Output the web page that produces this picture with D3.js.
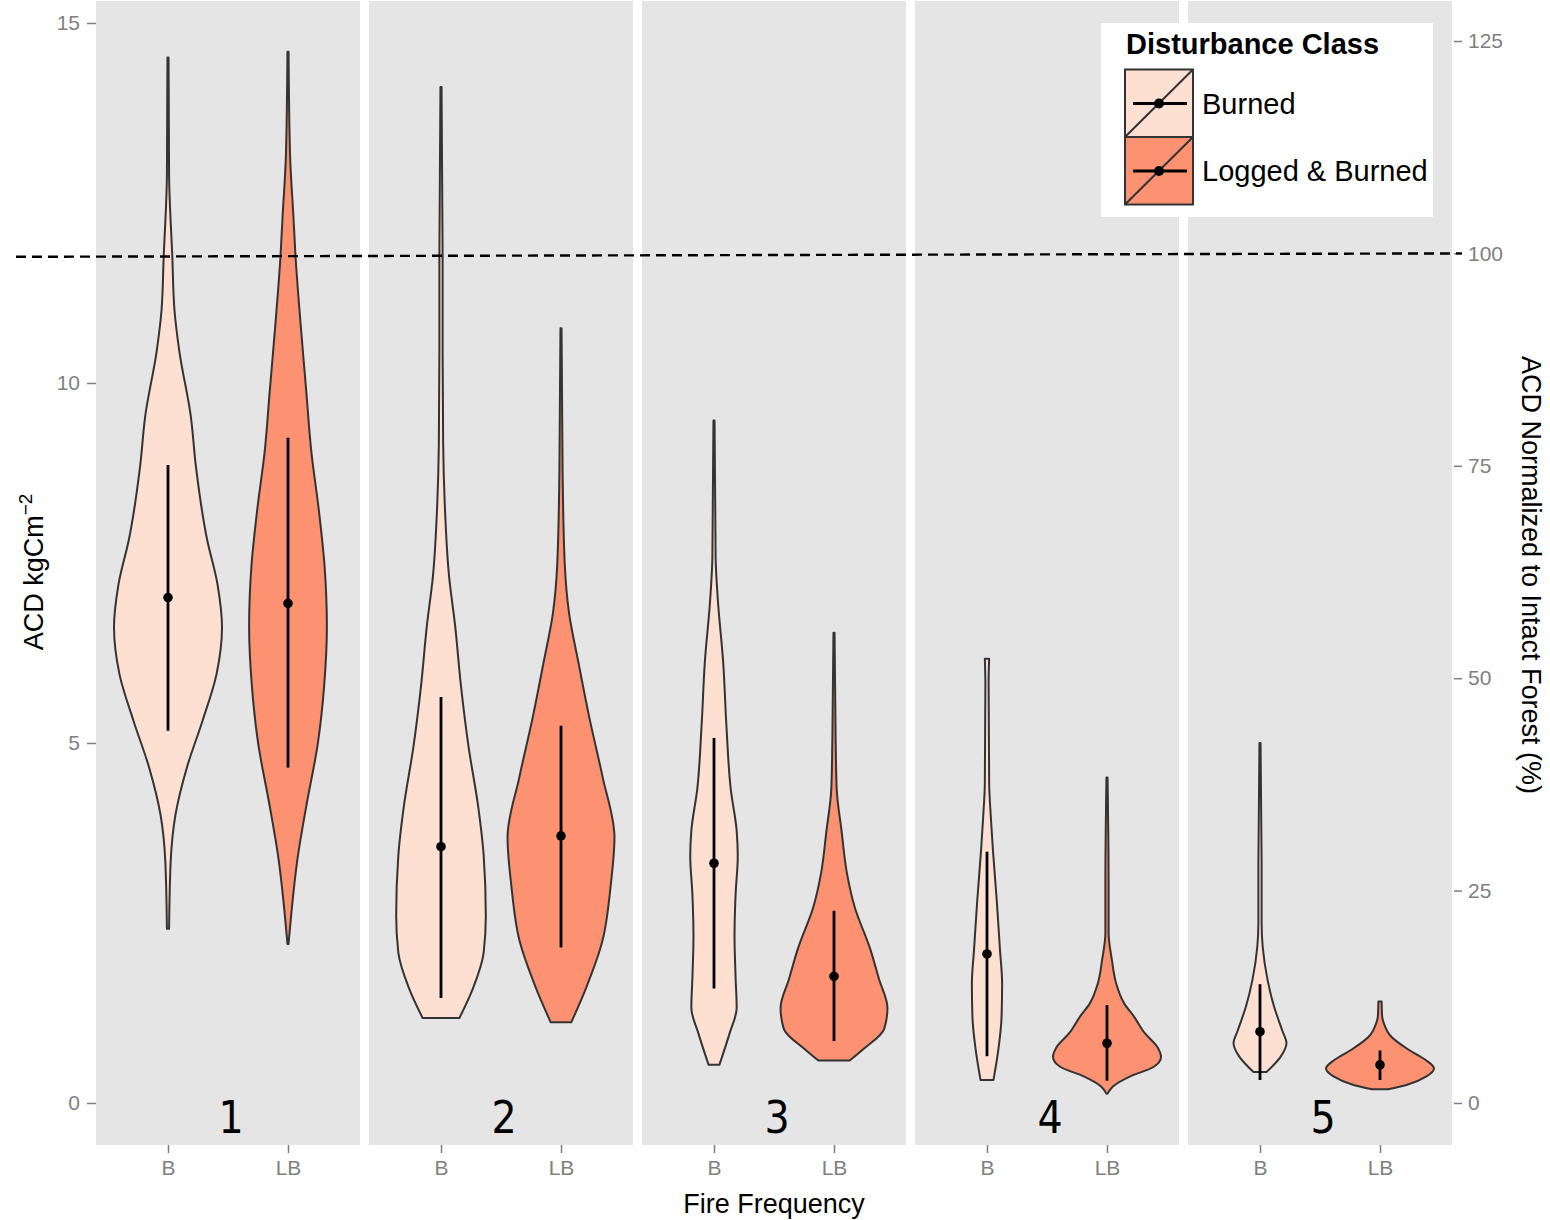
<!DOCTYPE html>
<html>
<head>
<meta charset="utf-8">
<script src="https://cdn.jsdelivr.net/npm/d3@7"></script>
<style>
  body { margin: 0; background: #fff; }
  .tick text { font-family: "Liberation Sans", Arial, sans-serif; fill: #7f7f7f; }
  .tick line { stroke: #7f7f7f; stroke-width: 1.5; }
</style>
</head>
<body>
<div id="chart"></div>
<script>
// ---- data ----
const freqs = [1, 2, 3, 4, 5];
const classes = ["B", "LB"];
const classLabels = ["Burned", "Logged & Burned"];
const intactAcd = 11.8;            // ACD of intact forest = 100 %
const dashPct = [99.6, 100];       // dashed reference line, left end / right end
const leftTicks = [0, 5, 10, 15];
const rightTicks = [0, 25, 50, 75, 100, 125];

// violin outlines per fire frequency: ACD values (top to bottom) and relative half width
const burnedAcd = [
  [14.52, 12.89, 11.75, 11.01, 10.44, 9.55, 8.82, 7.84, 7.19, 6.61, 5.96, 5.31, 4.66, 4.01, 3.36, 2.42],
  [14.11, 11.77, 10.42, 9.16, 8.31, 7.31, 6.64, 5.79, 4.95, 4.11, 3.44, 2.60, 2.09, 1.59, 1.18],
  [9.48, 7.58, 7.00, 6.12, 5.24, 4.36, 3.78, 3.43, 2.90, 2.32, 1.74, 1.32, 0.97, 0.53],
  [6.17, 5.83, 4.44, 3.98, 3.51, 2.82, 2.13, 1.66, 1.20, 0.74, 0.32],
  [5.00, 3.33, 2.50, 2.17, 1.71, 1.34, 1.01, 0.83, 0.64, 0.43]
];
const burnedWidth = [
  [0.01, 0.02, 0.08, 0.12, 0.21, 0.42, 0.52, 0.72, 0.92, 1.00, 0.90, 0.64, 0.35, 0.14, 0.05, 0.02],
  [0.01, 0.03, 0.03, 0.04, 0.07, 0.15, 0.26, 0.37, 0.51, 0.69, 0.79, 0.83, 0.79, 0.59, 0.34],
  [0.01, 0.03, 0.07, 0.17, 0.23, 0.31, 0.42, 0.44, 0.40, 0.38, 0.40, 0.42, 0.29, 0.10],
  [0.04, 0.03, 0.04, 0.07, 0.11, 0.18, 0.24, 0.28, 0.27, 0.21, 0.12],
  [0.01, 0.03, 0.03, 0.05, 0.14, 0.26, 0.41, 0.49, 0.38, 0.12]
];
const loggedAcd = [
  [14.60, 13.13, 12.32, 11.75, 10.85, 9.87, 9.06, 8.24, 7.43, 6.61, 5.80, 4.98, 4.17, 3.36, 2.70, 2.21],
  [10.76, 8.74, 7.48, 6.80, 6.13, 5.37, 4.53, 3.69, 3.02, 2.26, 1.59, 1.12],
  [6.53, 5.07, 4.36, 3.78, 3.19, 2.73, 2.14, 1.73, 1.32, 1.03, 0.74, 0.59],
  [4.52, 3.05, 2.36, 1.99, 1.66, 1.38, 1.20, 0.97, 0.78, 0.64, 0.50, 0.37, 0.23, 0.13],
  [1.41, 1.20, 1.11, 0.92, 0.74, 0.60, 0.48, 0.37, 0.25, 0.19]
];
const loggedWidth = [
  [0.01, 0.04, 0.10, 0.14, 0.23, 0.34, 0.43, 0.57, 0.68, 0.72, 0.67, 0.55, 0.35, 0.17, 0.07, 0.01],
  [0.01, 0.03, 0.07, 0.15, 0.32, 0.52, 0.77, 0.99, 0.92, 0.77, 0.46, 0.19],
  [0.01, 0.03, 0.05, 0.14, 0.24, 0.38, 0.67, 0.83, 0.99, 0.93, 0.53, 0.29],
  [0.01, 0.03, 0.03, 0.09, 0.17, 0.32, 0.50, 0.70, 0.93, 1.00, 0.86, 0.43, 0.11, 0.01],
  [0.03, 0.04, 0.07, 0.21, 0.53, 0.84, 1.00, 0.86, 0.49, 0.15]
];

// mean and +/- sd
const burnedMean = [7.02, 3.56, 3.33, 2.07, 0.99];
const burnedLow  = [5.17, 1.46, 1.59, 0.65, 0.32];
const burnedHigh = [8.86, 5.64, 5.07, 3.49, 1.65];
const loggedMean = [6.94, 3.71, 1.76, 0.83, 0.53];
const loggedLow  = [4.66, 2.16, 0.86, 0.31, 0.32];
const loggedHigh = [9.24, 5.24, 2.67, 1.36, 0.73];

// ---- config ----
const W = 1550, H = 1220;
const panelTop = 1, panelBottom = 1145, panelLeft = 96, panelRight = 1452;
const fills = { B: "#FEE0D2", LB: "#FC9272" };
const outline = "#333333";
const font = '"Liberation Sans", Arial, sans-serif';

const svg = d3.select("#chart").append("svg")
  .attr("width", W).attr("height", H)
  .style("font-family", font);

const y = d3.scaleLinear().domain([0, 15]).range([1103, 23]);
const yPct = d3.scaleLinear().domain([0, 100]).range([y(0), y(intactAcd)]);

const fx = d3.scaleBand().domain(freqs).range([panelLeft, panelRight]).paddingInner(9 / 273);

// build rows
const violins = [];
freqs.forEach((f, i) => {
  violins.push({ f, cls: "B", acd: burnedAcd[i], w: burnedWidth[i], mean: burnedMean[i], lo: burnedLow[i], hi: burnedHigh[i] });
  violins.push({ f, cls: "LB", acd: loggedAcd[i], w: loggedWidth[i], mean: loggedMean[i], lo: loggedLow[i], hi: loggedHigh[i] });
});

// panels
freqs.forEach(f => {
  const g = svg.append("g");
  g.append("rect")
    .attr("x", fx(f)).attr("y", panelTop)
    .attr("width", fx.bandwidth()).attr("height", panelBottom - panelTop)
    .attr("fill", "#E5E5E5");

  const x = d3.scalePoint().domain(classes).range([fx(f), fx(f) + fx.bandwidth()]).padding(0.6);
  const halfMax = 0.45 * x.step();

  violins.filter(v => v.f === f).forEach(v => {
    const pts = v.acd.map((a, k) => ({ a, w: v.w[k] }));
    const area = d3.area()
      .y(d => y(d.a))
      .x0(d => x(v.cls) - d.w * halfMax)
      .x1(d => x(v.cls) + d.w * halfMax)
      .curve(d3.curveMonotoneY);
    g.append("path")
      .datum(pts)
      .attr("d", area)
      .attr("fill", fills[v.cls])
      .attr("stroke", outline)
      .attr("stroke-width", 2)
      .attr("stroke-linejoin", "round");

    // mean +/- sd
    g.append("line")
      .attr("x1", x(v.cls)).attr("x2", x(v.cls))
      .attr("y1", y(v.hi)).attr("y2", y(v.lo))
      .attr("stroke", "#000").attr("stroke-width", 2.8);
    g.append("circle")
      .attr("cx", x(v.cls)).attr("cy", y(v.mean)).attr("r", 4.8)
      .attr("fill", "#000");
  });

  // x axis per panel
  svg.append("g")
    .attr("transform", `translate(0,${panelBottom})`)
    .call(d3.axisBottom(x).tickSize(8).tickPadding(7))
    .call(a => a.select(".domain").remove())
    .selectAll("text").style("font-size", "21px");

  // facet number
  svg.append("text")
    .attr("x", fx(f) + fx.bandwidth() / 2 + 3)
    .attr("y", 1133)
    .attr("text-anchor", "middle")
    .style("font-family", '"Liberation Sans Narrow", "DejaVu Sans Condensed", sans-serif')
    .style("font-size", "44px")
    .text(f);
});

// left axis
svg.append("g")
  .attr("transform", `translate(${panelLeft},0)`)
  .call(d3.axisLeft(y).tickValues(leftTicks).tickSize(9).tickPadding(7))
  .call(a => a.select(".domain").remove())
  .selectAll("text").style("font-size", "21px");

// right axis (% of intact forest)
svg.append("g")
  .attr("transform", `translate(${panelRight + 2},0)`)
  .call(d3.axisRight(yPct).tickValues(rightTicks).tickSize(8).tickPadding(6))
  .call(a => a.select(".domain").remove())
  .selectAll("text").style("font-size", "21px");

// dashed reference line (100 %)
svg.append("line")
  .attr("x1", 16).attr("x2", 1462)
  .attr("y1", yPct(dashPct[0])).attr("y2", yPct(dashPct[1]))
  .attr("stroke", "#000").attr("stroke-width", 2.4)
  .attr("stroke-dasharray", "10,6");

// axis titles
svg.append("text")
  .attr("x", (panelLeft + panelRight) / 2).attr("y", 1213)
  .attr("text-anchor", "middle")
  .style("font-size", "27px")
  .text("Fire Frequency");

const yt = svg.append("text")
  .attr("transform", "translate(43,572) rotate(-90)")
  .attr("text-anchor", "middle")
  .style("font-size", "27px");
yt.append("tspan").text("ACD kgCm");
yt.append("tspan").attr("dy", -11).style("font-size", "19px").text("\u22122");

svg.append("text")
  .attr("transform", "translate(1522,575) rotate(90)")
  .attr("text-anchor", "middle")
  .style("font-size", "27px")
  .text("ACD Normalized to Intact Forest (%)");

// legend
const lg = svg.append("g");
lg.append("rect")
  .attr("x", 1101).attr("y", 23).attr("width", 332).attr("height", 194)
  .attr("fill", "#fff");
lg.append("text")
  .attr("x", 1126).attr("y", 54)
  .style("font-size", "29px").style("font-weight", "bold")
  .text("Disturbance Class");

classes.forEach((c, i) => {
  const top = 69.5 + i * 67.5;
  const kg = lg.append("g").attr("transform", `translate(1125,${top})`);
  kg.append("rect")
    .attr("width", 68).attr("height", 67.5)
    .attr("fill", fills[c]).attr("stroke", outline).attr("stroke-width", 2);
  kg.append("line")
    .attr("x1", 0).attr("y1", 67.5).attr("x2", 68).attr("y2", 0)
    .attr("stroke", outline).attr("stroke-width", 2);
  kg.append("line")
    .attr("x1", 8).attr("x2", 62).attr("y1", 34).attr("y2", 34)
    .attr("stroke", "#000").attr("stroke-width", 2.8);
  kg.append("circle")
    .attr("cx", 34).attr("cy", 34).attr("r", 5).attr("fill", "#000");
  lg.append("text")
    .attr("x", 1202).attr("y", top + 44)
    .style("font-size", "29px")
    .text(classLabels[i]);
});
</script>
</body>
</html>
